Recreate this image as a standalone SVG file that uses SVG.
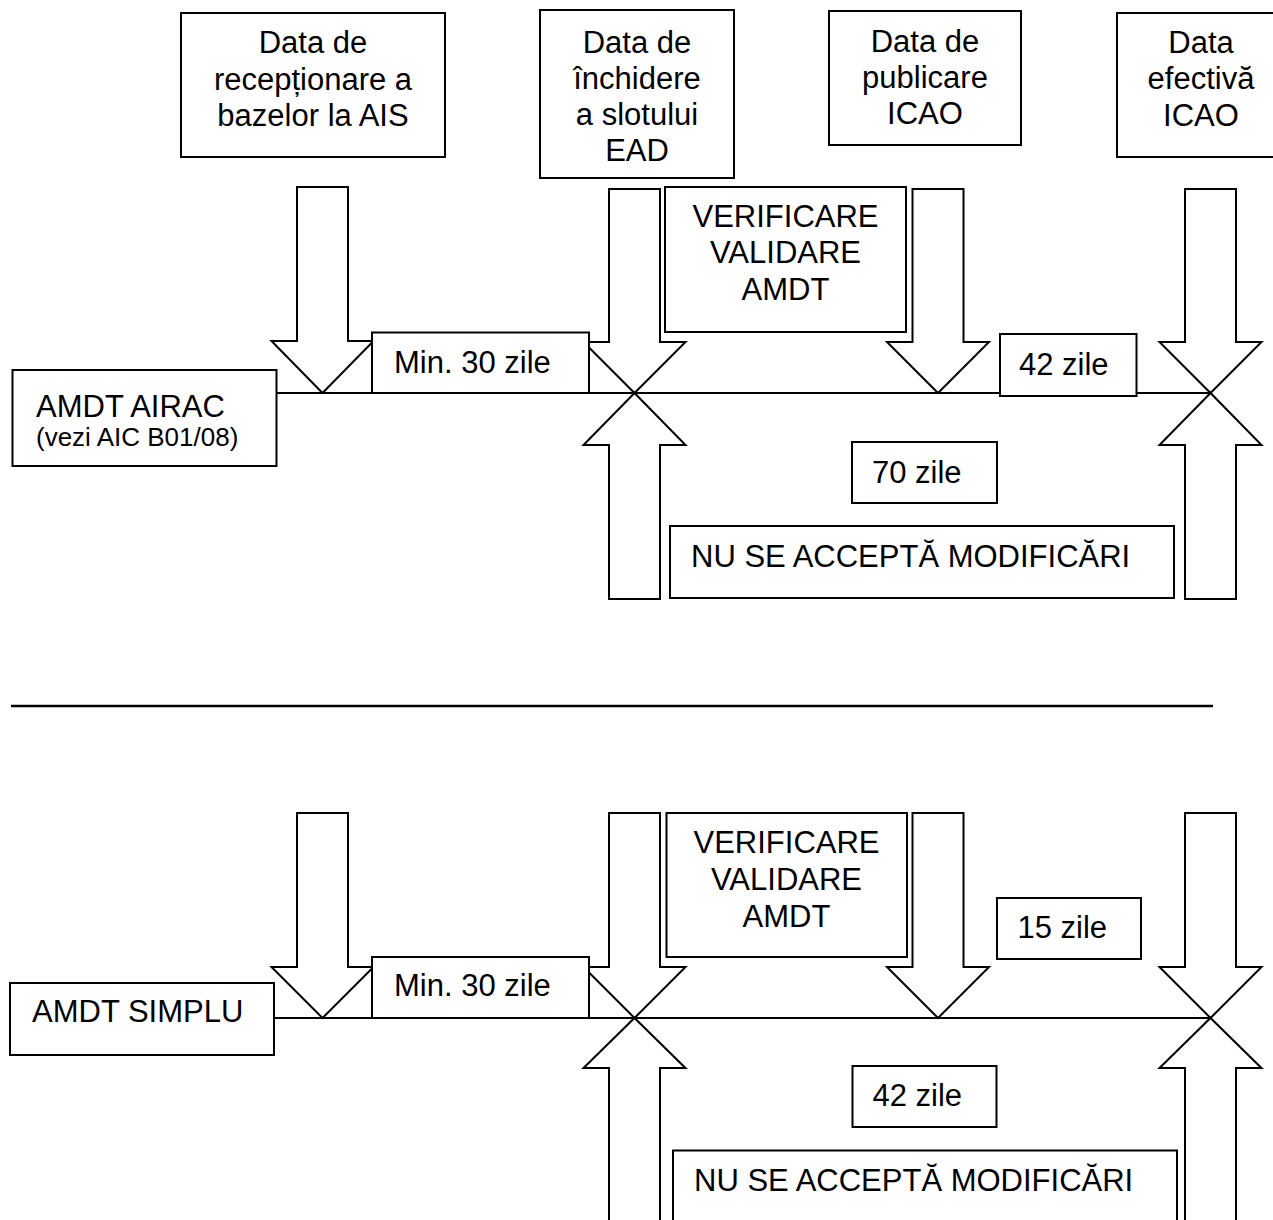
<svg xmlns="http://www.w3.org/2000/svg" width="1273" height="1220" viewBox="0 0 1273 1220">
<style>
.box{fill:#fff;stroke:#000;stroke-width:2}
.arr{fill:none;stroke:#000;stroke-width:2;stroke-linejoin:miter}
.ln{stroke:#000;stroke-width:2;fill:none}
.sep{stroke:#000;stroke-width:2.4}
text{font-family:"Liberation Sans",Arial,sans-serif;font-size:31px;fill:#000}
.c{text-anchor:middle}
.s{font-size:26px}
</style>
<rect width="1273" height="1220" fill="#fff"/>

<g id="connectors">
  <line class="ln" x1="276" y1="393" x2="1211" y2="393"/>
  <polygon class="arr" points="297,187 348,187 348,341 373.5,341 322.5,393 271.5,341 297,341"/>
  <polygon class="arr" points="609,189 660,189 660,342 685.5,342 634.5,393 583.5,342 609,342"/>
  <polygon class="arr" points="912.5,189 963.5,189 963.5,342 989,342 938,393 887,342 912.5,342"/>
  <polygon class="arr" points="1185,189 1236,189 1236,342 1261.5,342 1210.5,393 1159.5,342 1185,342"/>
  <polygon class="arr" points="609,599 660,599 660,445 685.5,445 634.5,393 583.5,445 609,445"/>
  <polygon class="arr" points="1185,599 1236,599 1236,445 1261.5,445 1210.5,393 1159.5,445 1185,445"/>

  <line class="sep" x1="11" y1="706" x2="1213" y2="706"/>

  <line class="ln" x1="274" y1="1018" x2="1211" y2="1018"/>
  <polygon class="arr" points="297,813 348,813 348,967 373.5,967 322.5,1018 271.5,967 297,967"/>
  <polygon class="arr" points="609,813 660,813 660,967 685.5,967 634.5,1018 583.5,967 609,967"/>
  <polygon class="arr" points="912.5,813 963.5,813 963.5,967 989,967 938,1018 887,967 912.5,967"/>
  <polygon class="arr" points="1185,813 1236,813 1236,967 1261.5,967 1210.5,1018 1159.5,967 1185,967"/>
  <polygon class="arr" points="609,1240 660,1240 660,1068 685.5,1068 634.5,1018 583.5,1068 609,1068"/>
  <polygon class="arr" points="1185,1240 1236,1240 1236,1068 1261.5,1068 1210.5,1018 1159.5,1068 1185,1068"/>
</g>

<g id="n-receptionare">
  <rect class="box" x="181" y="13" width="264" height="144"/>
  <text class="c" x="313" y="53">Data de</text>
  <text class="c" x="313" y="89.5">recepționare a</text>
  <text class="c" x="313" y="126">bazelor la AIS</text>
</g>
<g id="n-inchidere">
  <rect class="box" x="540" y="10" width="194" height="168"/>
  <text class="c" x="637" y="53">Data de</text>
  <text class="c" x="637" y="88.5">închidere</text>
  <text class="c" x="637" y="124.5">a slotului</text>
  <text class="c" x="637" y="160.5">EAD</text>
</g>
<g id="n-publicare">
  <rect class="box" x="829" y="11" width="192" height="134"/>
  <text class="c" x="925" y="52">Data de</text>
  <text class="c" x="925" y="88">publicare</text>
  <text class="c" x="925" y="124">ICAO</text>
</g>
<g id="n-efectiva">
  <rect class="box" x="1117" y="13" width="170" height="144"/>
  <text class="c" x="1201" y="52.5">Data</text>
  <text class="c" x="1201" y="89">efectivă</text>
  <text class="c" x="1201" y="125.5">ICAO</text>
</g>
<g id="n-verificare1">
  <rect class="box" x="665" y="187" width="241" height="145"/>
  <text class="c" x="785.5" y="227">VERIFICARE</text>
  <text class="c" x="785.5" y="263">VALIDARE</text>
  <text class="c" x="785.5" y="299.5">AMDT</text>
</g>
<g id="n-min30-1">
  <rect class="box" x="372" y="332.5" width="217" height="60.5"/>
  <text x="394" y="373">Min. 30 zile</text>
</g>
<g id="n-42zile-1">
  <rect class="box" x="1000" y="334" width="136.5" height="62"/>
  <text x="1019" y="374.5">42 zile</text>
</g>
<g id="n-airac">
  <rect class="box" x="12.5" y="370" width="264" height="96"/>
  <text x="36" y="416.5">AMDT AIRAC</text>
  <text class="s" x="36" y="446">(vezi AIC B01/08)</text>
</g>
<g id="n-70zile">
  <rect class="box" x="852" y="442" width="145" height="61"/>
  <text x="872" y="482.5">70 zile</text>
</g>
<g id="n-nuaccepta1">
  <rect class="box" x="670" y="526" width="504" height="72"/>
  <text x="691" y="566.5">NU SE ACCEPTĂ MODIFICĂRI</text>
</g>

<g id="n-verificare2">
  <rect class="box" x="666.5" y="813" width="240.5" height="144"/>
  <text class="c" x="786.5" y="852.5">VERIFICARE</text>
  <text class="c" x="786.5" y="889.5">VALIDARE</text>
  <text class="c" x="786.5" y="926.5">AMDT</text>
</g>
<g id="n-15zile">
  <rect class="box" x="997" y="898" width="144" height="61"/>
  <text x="1017.5" y="938">15 zile</text>
</g>
<g id="n-min30-2">
  <rect class="box" x="372" y="957" width="217" height="61"/>
  <text x="394" y="996">Min. 30 zile</text>
</g>
<g id="n-simplu">
  <rect class="box" x="10" y="983" width="264" height="72"/>
  <text x="32" y="1021.5">AMDT SIMPLU</text>
</g>
<g id="n-42zile-2">
  <rect class="box" x="852.5" y="1066" width="144" height="61"/>
  <text x="872.5" y="1106">42 zile</text>
</g>
<g id="n-nuaccepta2">
  <rect class="box" x="673" y="1150.5" width="504" height="90"/>
  <text x="694" y="1190.5">NU SE ACCEPTĂ MODIFICĂRI</text>
</g>
</svg>
